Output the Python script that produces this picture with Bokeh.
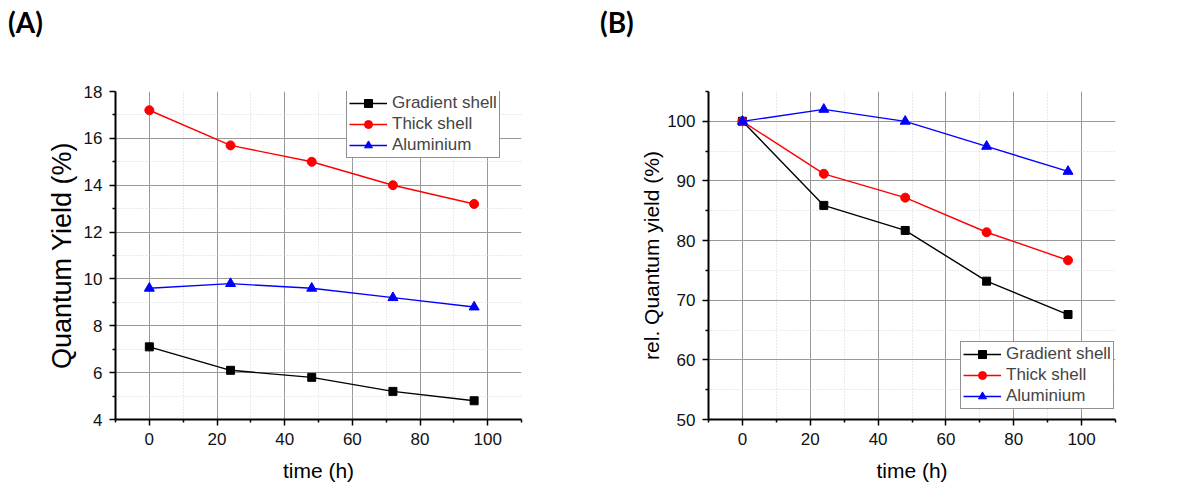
from bokeh.plotting import figure
from bokeh.models import FixedTicker, Range1d, Legend, LegendItem, Div
from bokeh.layouts import row, column
from bokeh.embed import file_html
from bokeh.resources import INLINE

# ---- data ----
time_h = [0, 24, 48, 72, 96]
series_names = ["Gradient shell", "Thick shell", "Aluminium"]

qy_gradient = [7.1, 6.1, 5.8, 5.2, 4.8]
qy_thick = [17.2, 15.7, 15.0, 14.0, 13.2]
qy_alu = [9.6, 9.8, 9.6, 9.2, 8.8]

rel_gradient = [100.0, 85.9, 81.7, 73.2, 67.6]
rel_thick = [100.0, 91.2, 87.2, 81.4, 76.7]
rel_alu = [100.0, 102.0, 100.0, 95.8, 91.6]

x_major = [0, 20, 40, 60, 80, 100]
x_minor = [-10, 10, 30, 50, 70, 90, 110]
a_y_major = [4, 6, 8, 10, 12, 14, 16, 18]
a_y_minor = [5, 7, 9, 11, 13, 15, 17]
b_y_major = [50, 60, 70, 80, 90, 100]
b_y_minor = [55, 65, 75, 85, 95, 105]
panel_letters = ["(A)", "(B)"]

FONT = "Liberation Sans"
COLORS = ["#000000", "#ff0000", "#0000ff"]
MARKERS = ["square", "circle", "triangle"]
MSIZES = [8, 9, 10]
HEADER_H = 40
TOP = 91 - HEADER_H


def make_panel(series, y_range, y_major, y_minor, y_label, y_label_size, y_standoff,
               left, right, legend_loc):
    p = figure(width=596, height=486 - HEADER_H, output_backend="svg",
               toolbar_location=None, title=None,
               x_range=Range1d(-10, 110), y_range=Range1d(*y_range),
               min_border_left=left, min_border_right=right,
               min_border_top=TOP, min_border_bottom=67)
    p.outline_line_color = None
    p.background_fill_color = "white"
    p.border_fill_color = "white"

    for ax, maj, mnr in ((p.xaxis[0], x_major, x_minor), (p.yaxis[0], y_major, y_minor)):
        ax.ticker = FixedTicker(ticks=maj, minor_ticks=mnr)
        ax.axis_line_color = "black"
        ax.axis_line_width = 2
        ax.major_tick_line_color = "black"
        ax.major_tick_line_width = 1.5
        ax.minor_tick_line_color = "black"
        ax.minor_tick_line_width = 1.5
        ax.major_tick_out = 6
        ax.major_tick_in = 0
        ax.minor_tick_out = 3
        ax.minor_tick_in = 0
        ax.major_label_text_font = FONT
        ax.major_label_text_font_size = "17px"
        ax.major_label_text_color = "#111111"
        ax.axis_label_text_font = FONT
        ax.axis_label_text_font_style = "normal"
        ax.axis_label_text_color = "#000000"
        ax.major_label_standoff = 7

    p.xaxis.axis_label = "time (h)"
    p.xaxis.axis_label_text_font_size = "21px"
    p.xaxis.axis_label_standoff = 11
    p.yaxis.axis_label = y_label
    p.yaxis.axis_label_text_font_size = y_label_size
    p.yaxis.axis_label_standoff = y_standoff

    # grids
    p.xgrid.ticker = FixedTicker(ticks=x_major, minor_ticks=x_minor[1:-1])
    p.ygrid.ticker = FixedTicker(ticks=y_major[1:], minor_ticks=y_minor)
    for g in (p.xgrid[0], p.ygrid[0]):
        g.grid_line_color = "#999999"
        g.grid_line_width = 1
        g.minor_grid_line_color = "#d4d4d4"
        g.minor_grid_line_dash = "1 2"
        g.minor_grid_line_width = 1

    items = []
    for name, ys, col, mk, ms in zip(series_names, series, COLORS, MARKERS, MSIZES):
        r1 = p.line(time_h, ys, line_color=col, line_width=1.4)
        r2 = p.scatter(time_h, ys, marker=mk, size=ms, fill_color=col, line_color=col)
        items.append(LegendItem(label=name, renderers=[r1, r2]))

    legend = Legend(items=items, location=legend_loc,
                    label_text_font=FONT, label_text_font_size="17px",
                    label_height=20, glyph_height=20, glyph_width=38,
                    label_standoff=5, spacing=1, padding=2, margin=0,
                    border_line_color="#222222", border_line_width=1,
                    background_fill_color="white", background_fill_alpha=1.0)
    p.add_layout(legend, "center")
    return p


def make_header(text, pad_left):
    return Div(text=text, width=596, height=HEADER_H, margin=(0, 0, 0, 0),
               styles={"font-family": "Lato", "font-weight": "bold",
                       "font-size": "28px", "color": "black",
                       "padding-left": f"{pad_left}px", "padding-top": "6px",
                       "line-height": "1.2", "background": "white"})


pA = make_panel([qy_gradient, qy_thick, qy_alu], (4, 18), a_y_major, a_y_minor,
                "Quantum Yield (%)", "27px", 4, 115, 75, (231, 261))
pB = make_panel([rel_gradient, rel_thick, rel_alu], (50, 105), b_y_major, b_y_minor,
                "rel. Quantum yield (%)", "21px", 1, 112, 77, (252, 10))

layout = column(
    row(make_header(panel_letters[0], 8), make_header(panel_letters[1], 4), spacing=0),
    row(pA, pB, spacing=0),
    spacing=0,
)
open("out.html", "w").write(file_html(layout, INLINE))
